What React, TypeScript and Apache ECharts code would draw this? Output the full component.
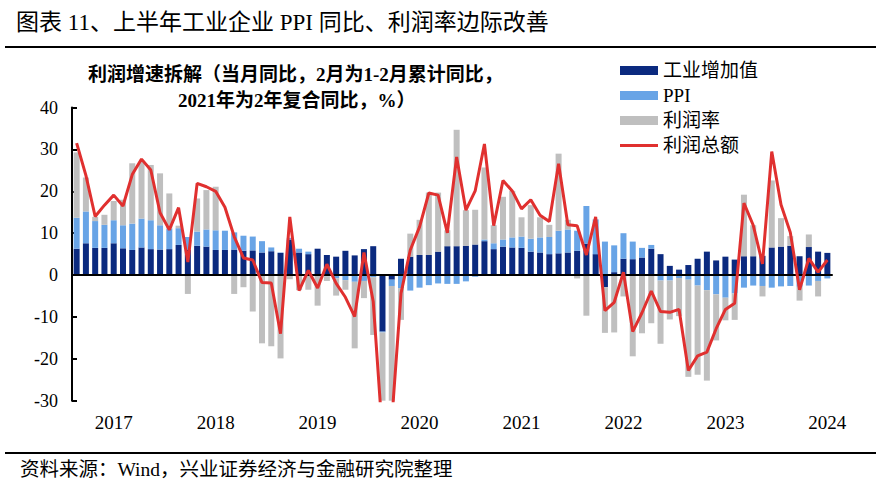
import React, { useEffect, useRef } from "react";
import * as echarts from "echarts";

// ---------- data ----------
const years = ["2017", "2018", "2019", "2020", "2021", "2022", "2023", "2024"];
const monthsFull = ["02", "03", "04", "05", "06", "07", "08", "09", "10", "11", "12"];
const months2024 = ["02", "03", "04", "05", "06"];
const categories: string[] = [];
years.forEach((y) => (y === "2024" ? months2024 : monthsFull).forEach((m) => categories.push(`${y}-${m}`)));

const seriesNames = ["工业增加值", "PPI", "利润率", "利润总额"];

// 工业增加值
const valueAdded = [
  6.3, 7.6, 6.5, 6.5, 7.6, 6.4, 6.0, 6.6, 6.2, 6.1, 6.2,
  7.2, 6.0, 7.0, 6.8, 6.0, 6.0, 6.1, 5.8, 5.9, 5.4, 5.7,
  5.3, 8.5, 5.4, 5.0, 6.3, 4.8, 4.4, 5.8, 4.7, 6.2, 6.9,
  -13.5, -1.1, 3.9, 4.4, 4.8, 4.8, 5.6, 6.9, 6.9, 7.0, 7.3,
  8.1, 6.2, 6.8, 6.6, 6.5, 5.6, 5.4, 5.0, 5.2, 5.4, 5.8,
  7.5, 5.0, -2.9, 0.7, 3.9, 3.8, 4.2, 6.3, 5.0, 2.2, 1.3,
  2.4, 3.9, 5.6, 3.5, 4.4, 3.7, 4.5, 4.5, 4.6, 6.6, 6.8,
  7.0, 4.5, 6.7, 5.6, 5.3,
];

// PPI
const ppi = [
  7.4, 7.6, 6.4, 5.5, 5.5, 5.5, 6.3, 6.9, 6.9, 5.8, 4.9,
  4.0, 3.1, 3.4, 4.1, 4.7, 4.6, 4.1, 3.6, 3.3, 2.7, 0.9,
  0.1, 0.4, 0.9, 0.6, 0.0, -0.3, -0.8, -1.2, -1.6, -1.4, -0.5,
  -0.2, -1.5, -3.1, -3.7, -3.0, -2.4, -2.0, -2.1, -2.1, -1.5, -0.4,
  0.4, 1.4, 1.7, 2.4, 2.7, 3.1, 3.6, 4.1, 5.4, 5.5, 4.8,
  9.0, 8.3, 8.0, 6.4, 6.1, 4.2, 2.3, 0.9, -1.3, -1.3, -0.7,
  -1.1, -2.5, -3.6, -4.6, -5.4, -4.4, -3.0, -2.5, -2.6, -3.0, -2.7,
  -2.6, -2.8, -2.5, -1.4, -0.8,
];

// 利润率
const profitMargin = [
  15.6, 8.1, 1.0, 2.4, 4.6, 6.1, 14.4, 13.5, 13.2, 12.4, 8.4,
  0.6, -4.5, 7.9, 9.4, 10.4, 0.0, -4.5, -2.9, -8.7, -16.3, -17.0,
  -19.9, -1.0, -3.6, -3.5, -7.3, -1.1, -4.1, -2.3, -15.9, -4.1, -13.8,
  -24.7, -32.0, -7.6, 5.5, 8.4, 14.9, 14.1, 3.8, 27.8, 8.5, 8.3,
  17.2, 4.3, 10.2, 11.1, 4.6, 8.0, 4.8, 2.9, 18.4, 2.3, -0.8,
  -9.7, 0.0, -10.9, -13.7, -5.1, -19.4, -13.9, -11.5, -15.1, -9.3, -9.1,
  -23.2, -21.3, -21.6, -11.0, -5.4, -6.3, 14.7, 7.4, -2.5, 16.0, 6.8,
  2.3, -3.3, 3.0, -3.7, 0.0,
];

// 利润总额
const profitTotal = [
  31.5, 23.8, 14.0, 16.7, 19.1, 16.5, 24.0, 27.7, 25.1, 14.9, 10.8,
  16.1, 3.1, 21.9, 21.1, 20.0, 16.2, 9.2, 4.1, 3.6, -1.8, -1.9,
  -14.0, 13.9, -3.7, 1.1, -3.1, 2.6, -2.0, -5.3, -9.9, 5.4, -6.3,
  -38.3, -34.9, -4.3, 6.0, 11.5, 19.6, 19.1, 10.1, 28.2, 15.5, 20.1,
  31.3, 11.8, 22.6, 20.1, 15.8, 18.0, 14.3, 12.8, 26.6, 12.0, 11.8,
  4.8, 13.9, -8.5, -6.5, 0.7, -13.5, -9.0, -3.8, -8.7, -8.9, -8.2,
  -22.8, -19.3, -18.4, -12.8, -8.2, -6.7, 17.2, 11.9, 2.7, 29.5, 16.8,
  10.2, -3.5, 4.0, 0.7, 3.6,
];

const yMin = -30;
const yMax = 40;
const yStep = 10;

const headerTitle = "图表 11、上半年工业企业 PPI 同比、利润率边际改善";
const innerTitle1 = "利润增速拆解（当月同比，2月为1-2月累计同比，";
const innerTitle2 = "2021年为2年复合同比，%）";
const sourceNote = "资料来源：Wind，兴业证券经济与金融研究院整理";

// ---------- styles ----------
const FONT = '"Times New Roman", "Liberation Serif", "Noto Sans CJK SC", serif';
const COLORS = ["#0B2A7F", "#68A4E6", "#BFBFBF", "#E0302F"];
// thin horizontal line icon (bounding box kept at 38x9 by zero-area sub-paths)
const LINE_ICON = "path://M0,0L0.01,0M38,9L37.99,9M0,3L38,3L38,6L0,6Z";

export default function App() {
  const ref = useRef<HTMLDivElement>(null);

  useEffect(() => {
    document.body.style.margin = "0";
    if (!ref.current) return;
    const chart = echarts.init(ref.current, null, { renderer: "svg" });
    const option: any = {
      animation: false,
      backgroundColor: "#fff",
      textStyle: { fontFamily: FONT },
      grid: { left: 72, right: 44, top: 107.6, bottom: 83.3, containLabel: false },
      legend: {
        orient: "vertical",
        left: 615,
        top: 56,
        itemWidth: 38,
        itemHeight: 9,
        itemGap: 6,
        textStyle: { fontFamily: FONT, fontSize: 19, color: "#000", lineHeight: 19 },
        data: [
          { name: seriesNames[0], icon: "rect" },
          { name: seriesNames[1], icon: "rect" },
          { name: seriesNames[2], icon: "rect" },
          { name: seriesNames[3], icon: LINE_ICON, itemStyle: { color: COLORS[3] } },
        ],
      },
      xAxis: [
        {
          type: "category",
          data: categories,
          z: 5,
          axisLine: { show: true, onZero: true, lineStyle: { color: "#000", width: 2 } },
          axisTick: { show: false },
          axisLabel: { show: false },
          splitLine: { show: false },
        },
        {
          type: "category",
          data: categories,
          position: "bottom",
          axisLine: { show: false, onZero: false },
          axisTick: { show: false },
          splitLine: { show: false },
          axisLabel: {
            show: true,
            interval: (_i: number, v: string) => v.endsWith("-06"),
            formatter: (v: string) => v.slice(0, 4),
            fontFamily: FONT,
            fontSize: 19,
            lineHeight: 20,
            color: "#000",
            margin: 12,
          },
        },
      ],
      yAxis: {
        type: "value",
        min: yMin,
        max: yMax,
        interval: yStep,
        axisLine: { show: true, lineStyle: { color: "#000", width: 2 } },
        axisTick: { show: true, inside: true, length: 5, lineStyle: { color: "#000", width: 2 } },
        axisLabel: { fontFamily: FONT, fontSize: 18, color: "#000", margin: 14 },
        splitLine: { show: false },
      },
      series: [
        {
          name: seriesNames[0],
          type: "bar",
          stack: "total",
          barWidth: 6,
          data: valueAdded,
          itemStyle: { color: COLORS[0] },
          clip: true,
        },
        {
          name: seriesNames[1],
          type: "bar",
          stack: "total",
          barWidth: 6,
          data: ppi,
          itemStyle: { color: COLORS[1] },
          clip: true,
        },
        {
          name: seriesNames[2],
          type: "bar",
          stack: "total",
          barWidth: 6,
          data: profitMargin,
          itemStyle: { color: COLORS[2] },
          clip: true,
        },
        {
          name: seriesNames[3],
          type: "line",
          data: profitTotal,
          symbol: "none",
          showSymbol: false,
          z: 6,
          clip: true,
          lineStyle: { color: COLORS[3], width: 3 },
          itemStyle: { color: COLORS[3] },
        },
      ],
      graphic: [
        {
          type: "text",
          x: 16,
          y: 22,
          style: {
            text: headerTitle,
            fontFamily: FONT,
            fontSize: 23,
            fill: "#000",
            textVerticalAlign: "middle",
          },
        },
        { type: "line", shape: { x1: 5, y1: 47, x2: 876, y2: 47 }, style: { stroke: "#000", lineWidth: 2 } },
        {
          type: "text",
          x: 88,
          y: 74,
          style: {
            text: innerTitle1,
            fontFamily: FONT,
            fontSize: 19,
            fontWeight: "bold",
            fill: "#000",
            textVerticalAlign: "middle",
          },
        },
        {
          type: "text",
          x: 178,
          y: 100,
          style: {
            text: innerTitle2,
            fontFamily: FONT,
            fontSize: 19,
            fontWeight: "bold",
            fill: "#000",
            textVerticalAlign: "middle",
          },
        },
        { type: "line", shape: { x1: 5, y1: 453, x2: 876, y2: 453 }, style: { stroke: "#000", lineWidth: 2 } },
        {
          type: "text",
          x: 20,
          y: 469,
          style: {
            text: sourceNote,
            fontFamily: FONT,
            fontSize: 19.5,
            fill: "#000",
            textVerticalAlign: "middle",
          },
        },
      ],
    };
    chart.setOption(option);
    return () => chart.dispose();
  }, []);

  return <div ref={ref} style={{ width: 876, height: 484 }} />;
}
